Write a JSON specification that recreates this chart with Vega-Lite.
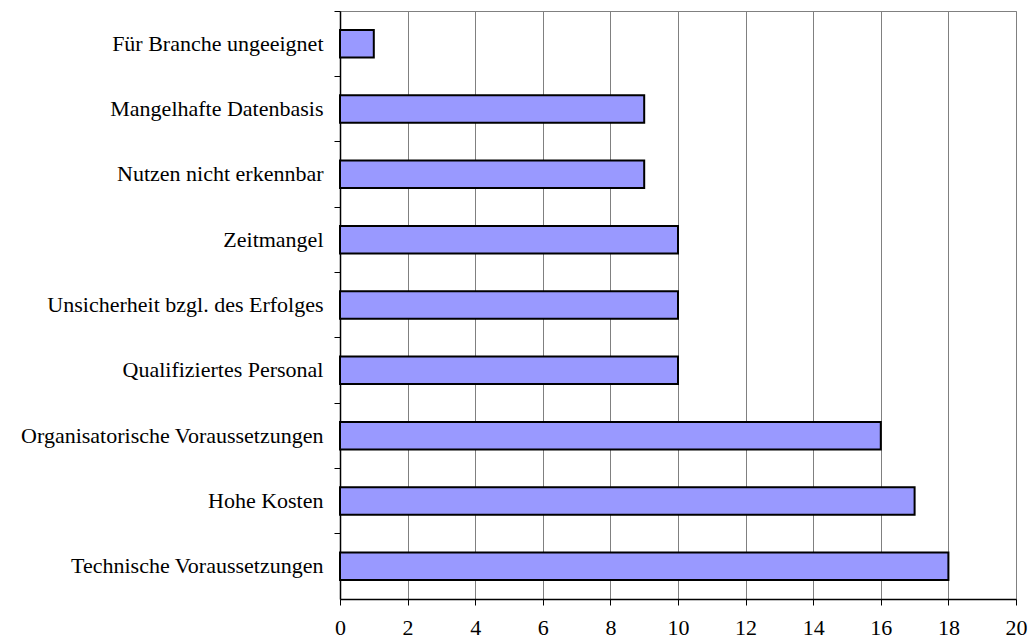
{
  "$schema": "https://vega.github.io/schema/vega-lite/v6.json",
  "width": 676,
  "height": 588,
  "autosize": {"type": "none"},
  "padding": {"left": 340, "top": 11, "right": 17, "bottom": 40},
  "background": "white",
  "config": {
    "view": {"stroke": "#808080", "strokeWidth": 1},
    "font": "Liberation Serif"
  },
  "data": {
    "values": [
      {"grund": "Für Branche ungeeignet", "anzahl": 1},
      {"grund": "Mangelhafte Datenbasis", "anzahl": 9},
      {"grund": "Nutzen nicht erkennbar", "anzahl": 9},
      {"grund": "Zeitmangel", "anzahl": 10},
      {"grund": "Unsicherheit bzgl. des Erfolges", "anzahl": 10},
      {"grund": "Qualifiziertes Personal", "anzahl": 10},
      {"grund": "Organisatorische Voraussetzungen", "anzahl": 16},
      {"grund": "Hohe Kosten", "anzahl": 17},
      {"grund": "Technische Voraussetzungen", "anzahl": 18}
    ]
  },
  "mark": {"type": "bar", "height": {"band": 0.42}, "fill": "#9999FF", "stroke": "black", "strokeWidth": 2},
  "encoding": {
    "y": {
      "field": "grund",
      "type": "nominal",
      "sort": null,
      "scale": {"paddingInner": 0, "paddingOuter": 0},
      "axis": {
        "title": null,
        "bandPosition": 0,
        "ticks": true,
        "tickSize": 6,
        "tickColor": "black",
        "domainColor": "black",
        "domainWidth": 1.5,
        "labelFont": "Liberation Serif",
        "labelFontSize": 22,
        "labelColor": "black",
        "labelPadding": 11,
        "labelLimit": 400,
        "grid": false
      }
    },
    "x": {
      "field": "anzahl",
      "type": "quantitative",
      "scale": {"domain": [0, 20], "nice": false},
      "axis": {
        "title": null,
        "values": [0, 2, 4, 6, 8, 10, 12, 14, 16, 18, 20],
        "grid": true,
        "gridColor": "#808080",
        "gridWidth": 1,
        "gridOpacity": 1,
        "tickSize": 6,
        "tickColor": "black",
        "domainColor": "black",
        "domainWidth": 1.5,
        "labelFont": "Liberation Serif",
        "labelFontSize": 22,
        "labelColor": "black",
        "labelPadding": 12,
        "labelBaseline": "top",
        "labelFlush": false
      }
    }
  }
}
